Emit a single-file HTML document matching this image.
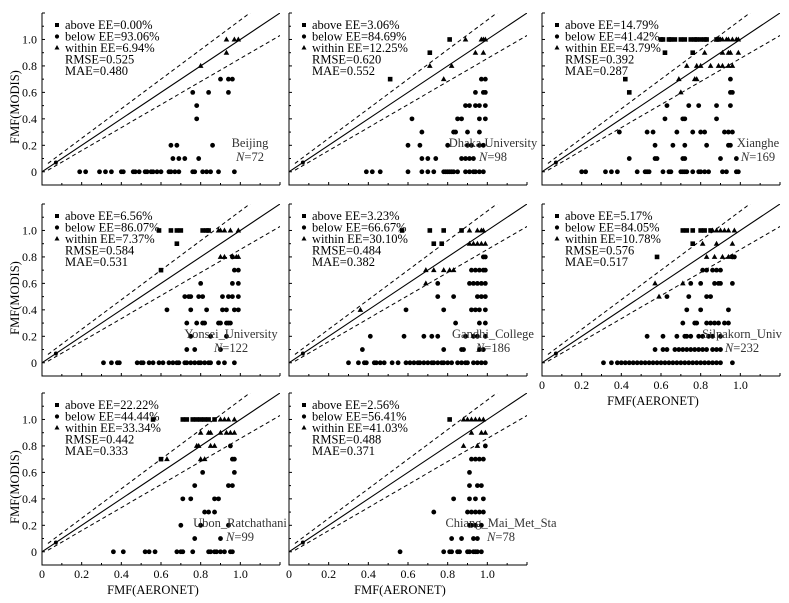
<!DOCTYPE html>
<html><head><meta charset="utf-8">
<style>
html,body{margin:0;padding:0;background:#fff;}
svg{display:block;font-family:"Liberation Serif",serif;}
</style></head>
<body>
<svg id="chart" width="789" height="603" viewBox="0 0 789 603"></svg>
<script>
// ---- data (y level -> list of AERONET x values) ----
const stationNames = ["Beijing","Dhaka_University","Xianghe","Yonsei_University","Gandhi_College","Silpakorn_Univ","Ubon_Ratchathani","Chiang_Mai_Met_Sta"];
const stationDisplay = ["Beijing","Dhaka University","Xianghe","Yonsei_University","Gandhi_College","Silpakorn_Univ","Ubon_Ratchathani","Chiang_Mai_Met_Sta"];
const stationN = [72,98,169,122,186,232,99,78];
const aboveEE = ["0.00","3.06","14.79","6.56","3.23","5.17","22.22","2.56"];
const belowEE = ["93.06","84.69","41.42","86.07","66.67","84.05","44.44","56.41"];
const withinEE = ["6.94","12.25","43.79","7.37","30.10","10.78","33.34","41.03"];
const rmse = ["0.525","0.620","0.392","0.584","0.484","0.576","0.442","0.488"];
const mae = ["0.480","0.552","0.287","0.531","0.382","0.517","0.333","0.371"];
const xTicks = [0,0.2,0.4,0.6,0.8,1.0];
const xTickLabels = ["0","0.2","0.4","0.6","0.8","1.0"];
const yTicks = [0,0.2,0.4,0.6,0.8,1.0];
const yTickLabels = ["0","0.2","0.4","0.6","0.8","1.0"];

const beijingAbove = {};
const beijingBelow = {"0":[.19,.22,.29,.32,.35,.40,.41,.46,.47,.49,.52,.53,.55,.56,.58,.60,.64,.65,.67,.69,.76,.77,.81,.83,.85,.89,.97],
 "0.1":[.66,.69,.72,.79],"0.2":[.65,.68,.86],"0.4":[.78],"0.5":[.78],"0.6":[.76,.84,.94],"0.7":[.90,.94,.96]};
const beijingWithin = {"0.8":[.80],"0.9":[.93],"1":[.93,.97,.99]};

const dhakaAbove = {"0.7":[.51],"0.9":[.71],"1":[.81]};
const dhakaBelow = {"0":[.39,.42,.46,.60,.67,.70,.73,.78,.79,.80,.81,.82,.83,.85,.89,.91,.93,.94,.96,.98],
 "0.1":[.67,.70,.74,.87,.89,.91,.93],"0.2":[.60,.66,.80,.90,.92,.96,.98],"0.3":[.67,.83,.84,.90,.96],
 "0.4":[.62,.85,.87,.96,.99],"0.5":[.89,.91,.94,.96,.99],"0.6":[.94,.98,.99],"0.7":[.97,.99]};
const dhakaWithin = {"0.7":[.78],"0.8":[.71,.82],"0.9":[.94,.98],"1":[.89,.97,.98,.99]};

const xiangheAbove = {"1":[.60,.61,.64,.65,.67,.70,.72,.75,.77,.78,.80,.82,.83,.88,.89],"0.9":[.62,.76],"0.7":[.42],"0.6":[.44]};
const xiangheBelow = {"0":[.20,.22,.32,.35,.38,.48,.52,.53,.54,.61,.64,.65,.70,.71,.72,.73,.76,.79,.80,.82,.84,.91,.93,.98,.99],
 "0.1":[.44,.57,.58,.71,.72,.90,.98],"0.2":[.57,.66,.72,.83,.94,.95],"0.3":[.39,.53,.56,.68,.76,.80,.82,.92,.94,.96],
 "0.4":[.62,.71,.72,.88],"0.5":[.63,.74,.79,.88,.95],"0.6":[.95,.96],"0.7":[.95]};
const xiangheWithin = {"1":[.88,.90,.91,.93,.94,.96,.98,.99],"0.9":[.82,.91,.94,.95,.99],"0.8":[.73,.78,.80,.85,.89,.91,.94,.96],"0.7":[.69,.77,.78],"0.6":[.70]};

const yonseiAbove = {"1":[.59,.65,.68,.70,.81,.83,.84],"0.9":[.68],"0.7":[.60]};
const yonseiBelow = {"0":[.31,.35,.38,.39,.48,.50,.51,.54,.56,.59,.61,.64,.66,.68,.69,.72,.73,.75,.77,.79,.80,.82,.84,.85,.89,.92,.97],
 "0.1":[.73,.77,.90],"0.2":[.75,.85,.93],"0.3":[.73,.78,.81,.82,.89,.90,.93,.94,.95],"0.4":[.63,.75,.83,.91,.93,.97,.99],
 "0.5":[.72,.74,.75,.79,.81,.91,.94,.96,.99],"0.6":[.80,.96,.99],"0.7":[.97,.99],"0.8":[.96]};
const yonseiWithin = {"1":[.89,.90,.92,.95,.99],"0.8":[.90,.92,.98,.99]};

const gandhiAbove = {"1":[.57,.71,.78,.87],"0.9":[.73,.77]};
const gandhiBelow = {"0":[.30,.35,.38,.39,.43,.44,.46,.48,.52,.55,.59,.61,.63,.65,.66,.68,.70,.72,.73,.75,.77,.78,.80,.82,.85,.87,.89,.90,.93,.95,.97,.99],
 "0.1":[.37,.78,.87,.88,.96,.98],"0.2":[.41,.58,.68,.72,.75,.89,.93,.95,.99],"0.3":[.84,.96,.99],
 "0.4":[.59,.78,.92,.94,.96,.99],"0.5":[.75,.83,.95,.97,.99],"0.6":[.75,.91,.93,.95,.97,.99],
 "0.7":[.92,.94,.96,.98,.99],"0.8":[.98,.99]};
const gandhiWithin = {"1":[.91,.95,.97,.98],"0.9":[.91,.93,.95,.97,.99],"0.7":[.69,.73,.78,.81,.83],"0.6":[.69],"0.4":[.36]};

const silpakornAbove = {"1":[.71,.73,.76,.80,.82,.85],"0.9":[.76],"0.8":[.58]};
const silpakornBelow = {"0":[.31,.35,.38,.40,.42,.44,.46,.48,.50,.52,.54,.56,.58,.60,.62,.64,.66,.68,.70,.72,.74,.76,.78,.80,.82,.84,.86,.88,.90,.96],
 "0.1":[.57,.61,.63,.67,.69,.71,.73,.75,.77,.79,.81,.83,.86,.88,.90],"0.2":[.53,.61,.68,.72,.73,.75,.79,.81,.84,.86,.90],
 "0.3":[.71,.77,.78,.83,.85,.87,.89,.92,.94],"0.4":[.73,.80,.94],"0.5":[.63,.74,.83,.85],
 "0.6":[.75,.80,.87,.89,.90,.96],"0.7":[.81,.83,.86,.88,.90],"0.8":[.96,.97]};
const silpakornWithin = {"1":[.86,.88,.90,.92,.94,.97],"0.9":[.81,.88,.96],"0.8":[.83,.87,.91,.94],"0.6":[.57,.71],"0.5":[.59]};

const ubonAbove = {"1":[.56,.71,.73,.76,.78,.80,.82,.84,.87],"0.7":[.60]};
const ubonBelow = {"0":[.36,.41,.52,.54,.57,.68,.70,.71,.76,.84,.85,.87,.88,.90,.92,.95,.96],
 "0.1":[.77,.90],"0.2":[.70,.80,.94],"0.3":[.82,.84,.87],"0.4":[.71,.75,.87,.89],"0.5":[.77,.94,.96],
 "0.6":[.81,.97],"0.7":[.96,.97],"0.8":[.95]};
const ubonWithin = {"1":[.90,.92,.94,.97],"0.9":[.80,.84,.85,.90,.93,.95,.97],"0.8":[.78,.79,.85,.87],"0.7":[.63,.80,.82]};

const chiangAbove = {"1":[.81]};
const chiangBelow = {"0":[.56,.78,.81,.82,.85,.86,.90,.91,.93,.94,.95,.97],
 "0.1":[.82,.87,.93,.95],"0.2":[.91,.92,.94,.97],"0.3":[.73,.90,.92,.94,.96,.98],"0.4":[.83,.91,.94,.98],
 "0.5":[.91,.95,.97],"0.6":[.91],"0.7":[.92,.94,.96,.98],"0.8":[.99]};
const chiangWithin = {"1":[.88,.90,.92,.94,.96,.98],"0.9":[.92,.97,.99],"0.8":[.88,.95]};

const aboveSets = [beijingAbove,dhakaAbove,xiangheAbove,yonseiAbove,gandhiAbove,silpakornAbove,ubonAbove,chiangAbove];
const belowSets = [beijingBelow,dhakaBelow,xiangheBelow,yonseiBelow,gandhiBelow,silpakornBelow,ubonBelow,chiangBelow];
const withinSets = [beijingWithin,dhakaWithin,xiangheWithin,yonseiWithin,gandhiWithin,silpakornWithin,ubonWithin,chiangWithin];

// ---- layout ----
const colLeft = [42,289,542], rowTop = [13,204,393];
const PW = 238, PH = 172, XMAX = 1.2, YMIN = -0.1, YMAX = 1.2;
const labelCenterOffset = [208,204,216,189,204,200,198,212];
const NS = "http://www.w3.org/2000/svg";
const svg = document.getElementById("chart");
function mk(tag, attrs, parent){ const e=document.createElementNS(NS,tag); for(const k in attrs) e.setAttribute(k,attrs[k]); (parent||svg).appendChild(e); return e; }

for(let p=0;p<8;p++){
  const L = colLeft[p%3], T = rowTop[Math.floor(p/3)];
  const sx = v => L + v/XMAX*PW;
  const sy = v => T + (YMAX - v)/(YMAX-YMIN)*PH;
  const g = mk("g",{});
  
  
  // axes
  const ax = mk("path",{d:`M${L},${T}V${T+PH}H${L+PW}`,fill:"none",stroke:"#000","stroke-width":1},g);
  
  
  for(let i=0;i<=12;i++){ const x=sx(i/10); mk("line",{x1:x,x2:x,y1:T+PH,y2:T+PH-(i%2?2:3),stroke:"#000","stroke-width":1},g); }
  for(let i=-1;i<=12;i++){ const y=sy(i/10); mk("line",{x1:L,x2:L+(i%2?2:3),y1:y,y2:y,stroke:"#000","stroke-width":1},g); }
  if(p%3===0){
    yTicks.forEach((v,i)=>{ const t=mk("text",{x:L-5,y:sy(v)+4,"text-anchor":"end","font-size":12},g); t.textContent=yTickLabels[i];
      
       });
    const yt=mk("text",{x:0,y:0,transform:`translate(19,${T+94}) rotate(-90)`,"text-anchor":"middle","font-size":12.5},g);
    yt.textContent="FMF(MODIS)";
    
    
  }
  if(p>=5){
    xTicks.forEach((v,i)=>{ const t=mk("text",{x:sx(v),y:T+PH+13,"text-anchor":"middle","font-size":12},g); t.textContent=xTickLabels[i];
      
       });
    const xt=mk("text",{x:L+111,y:T+PH+29,"text-anchor":"middle","font-size":12.5},g);
    xt.textContent="FMF(AERONET)";
    
    
  }
  // reference lines (clipped)
  const cid="clip"+p;
  const cp=mk("clipPath",{id:cid},g); mk("rect",{x:L,y:T,width:PW,height:PH},cp);
  const lg=mk("g",{"clip-path":`url(#${cid})`},g);
  const one=mk("line",{x1:sx(0),y1:sy(0),x2:sx(1.2),y2:sy(1.2),stroke:"#000","stroke-width":1.1},lg);
  
  
  const up=mk("line",{x1:sx(0.03),y1:sy(0.03*1.1+0.05*0.6),x2:sx(1.2),y2:sy(1.2*1.1+0.05),stroke:"#000","stroke-width":1,"stroke-dasharray":"4,3"},lg);
  
  
  const lo=mk("line",{x1:sx(0.03),y1:sy(0.03*0.9-0.05*0.3),x2:sx(1.2),y2:sy(1.2*0.9-0.05),stroke:"#000","stroke-width":1,"stroke-dasharray":"4,3"},lg);
  
  
  mk("circle",{cx:sx(0.07),cy:sy(0.07),r:2,fill:"#000"},g);
  // points
  function draw(set, kind){
    for(const key in set){ const yv=parseFloat(key);
      set[key].forEach(xv=>{
        const cx=sx(xv), cy=sy(yv); let e;
        if(kind==="above") e=mk("rect",{x:cx-2.3,y:cy-2.3,width:4.6,height:4.6,fill:"#000"},g);
        else if(kind==="below") e=mk("circle",{cx:cx,cy:cy,r:2.4,fill:"#000"},g);
        else e=mk("path",{d:`M${cx},${cy-3}L${cx+2.8},${cy+2}L${cx-2.8},${cy+2}Z`,fill:"#000"},g);
        
        
      });
    }
  }
  draw(belowSets[p],"below"); draw(aboveSets[p],"above"); draw(withinSets[p],"within");
  // legend
  const lx=L+15, tx=L+23;
  const leg=[["above EE="+aboveEE[p]+"%","sq"],["below EE="+belowEE[p]+"%","ci"],["within EE="+withinEE[p]+"%","tr"],["RMSE="+rmse[p],""],["MAE="+mae[p],""]];
  leg.forEach((it,i)=>{
    const by=T+16+i*11.5;
    if(it[1]==="sq") mk("rect",{x:lx-2,y:by-6,width:4,height:4,fill:"#000"},g);
    if(it[1]==="ci") mk("circle",{cx:lx,cy:by-4,r:2.1,fill:"#000"},g);
    if(it[1]==="tr") mk("path",{d:`M${lx},${by-7}L${lx+2.5},${by-2.5}L${lx-2.5},${by-2.5}Z`,fill:"#000"},g);
    const t=mk("text",{x:tx,y:by,"font-size":12.5},g); t.textContent=it[0];
    
    
  });
  const c=L+labelCenterOffset[p];
  const nm=mk("text",{x:c,y:T+134,"text-anchor":"middle","font-size":12.5,fill:"#333"},g); nm.textContent=stationDisplay[p];
  
  
  const nn=mk("text",{x:c,y:T+148,"text-anchor":"middle","font-size":12.5,fill:"#333"},g);
  const ni=mk("tspan",{"font-style":"italic"},nn); ni.textContent="N";
  const nv=mk("tspan",{},nn); nv.textContent="="+stationN[p];
  
  
}
</script>
</body></html>
